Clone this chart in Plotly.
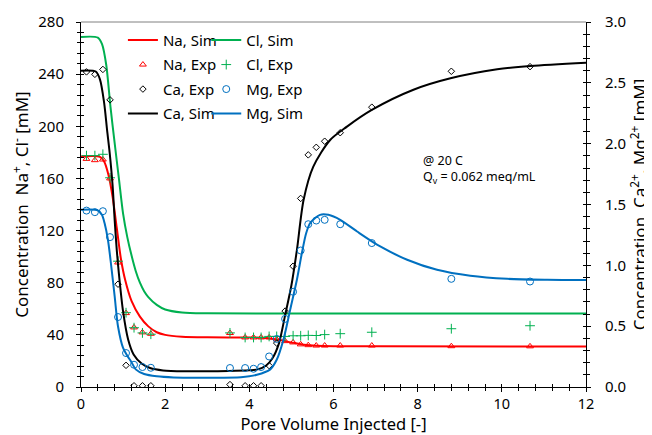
import plotly.graph_objects as go

# ---------------- data ----------------
# experimental sampling points (pore volumes)
x_exp = [0.13, 0.33, 0.52, 0.69, 0.88, 1.07, 1.26, 1.46, 1.66, 3.54, 3.90, 4.10, 4.28,
         4.47, 4.65, 4.85, 5.04, 5.22, 5.40, 5.59, 5.79, 6.16, 6.91, 8.80, 10.67]

na_exp = [175.0, 174.0, 174.5, 160.0, 95.5, 56.7, 45.7, 41.9, 40.8, 41.4, 38.0, 38.0, 38.0,
          38.0, 36.5, 35.2, 34.2, 32.7, 32.1, 31.8, 31.8, 31.8, 31.8, 31.3, 31.2]
cl_exp = [177.5, 177.5, 178.5, 160.5, 96.5, 57.0, 45.5, 41.5, 40.5, 41.5, 38.0, 38.0, 38.0,
          38.8, 38.8, 38.8, 39.3, 39.3, 39.6, 39.5, 40.2, 40.9, 42.0, 44.7, 47.0]
ca_exp = [2.59, 2.57, 2.61, 2.36, 0.845, 0.178, 0.01, 0.01, 0.01, 0.02, 0.01, 0.01, 0.01,
          0.176, 0.361, 0.624, 0.993, 1.55, 1.908, 1.97, 2.02, 2.09, 2.30, 2.595, 2.633]
mg_exp = [1.45, 1.437, 1.445, 1.232, 0.575, 0.279, 0.183, 0.164, 0.158, 0.156, 0.156, 0.150, 0.164,
          0.251, 0.395, 0.560, 0.783, 1.122, 1.338, 1.368, 1.374, 1.338, 1.183, 0.889, 0.867]

# simulated curves
na_sim_x = [0, 0.45, 0.55, 0.65, 0.75, 0.85, 0.95, 1.05, 1.2, 1.4, 1.6, 1.8, 2.0, 2.4, 3.0,
            4.0, 4.4, 4.7, 5.0, 5.3, 5.6, 6.0, 7.0, 12.0]
na_sim_y = [176.8, 176.5, 173.0, 163.0, 146.0, 122.0, 98.0, 82.0, 66.0, 54.0, 46.5, 42.0, 40.0,
            38.6, 38.1, 38.0, 37.6, 36.2, 34.2, 32.4, 31.6, 31.3, 31.2, 31.1]

cl_sim_x = [0, 0.4, 0.5, 0.6, 0.7, 0.8, 0.9, 1.0, 1.1, 1.2, 1.3, 1.4, 1.5, 1.6, 1.8, 2.0,
            2.4, 3.0, 12.0]
cl_sim_y = [268.5, 268.0, 263.0, 247.0, 215.0, 187.0, 160.0, 133.0, 115.0, 101.0, 89.0, 80.0,
            73.5, 69.0, 63.0, 59.5, 57.2, 56.5, 56.3]

ca_sim_x = [0, 0.35, 0.45, 0.55, 0.62, 0.68, 0.75, 0.8, 0.85, 0.9, 1.0, 1.12, 1.25, 1.44, 1.64,
            1.95, 2.5, 3.0, 3.5, 4.0, 4.2, 4.4, 4.55, 4.7, 4.85, 5.0, 5.13, 5.29, 5.52, 5.92,
            6.32, 6.91, 7.9, 8.78, 9.89, 10.68, 12.0]
ca_sim_y = [2.600, 2.593, 2.529, 2.336, 2.111, 1.929, 1.661, 1.371, 1.125, 0.932, 0.621, 0.391,
            0.268, 0.193, 0.156, 0.136, 0.129, 0.129, 0.131, 0.137, 0.145, 0.177, 0.236, 0.354,
            0.589, 0.836, 1.125, 1.539, 1.811, 2.030, 2.140, 2.277, 2.443, 2.537, 2.611, 2.639,
            2.666]

mg_sim_x = [0, 0.4, 0.5, 0.56, 0.64, 0.72, 0.8, 0.88, 1.0, 1.1, 1.2, 1.3, 1.5, 1.8, 2.2, 3.0,
            3.8, 4.18, 4.49, 4.65, 4.81, 4.97, 5.13, 5.25, 5.35, 5.45, 5.68, 5.88, 6.16, 6.56,
            7.11, 7.75, 8.46, 9.25, 10.13, 11.08, 12.0]
mg_sim_y = [1.456, 1.452, 1.414, 1.347, 1.210, 0.990, 0.744, 0.497, 0.321, 0.257, 0.204, 0.145,
            0.107, 0.088, 0.079, 0.077, 0.081, 0.101, 0.143, 0.224, 0.389, 0.634, 0.881, 1.104,
            1.264, 1.350, 1.415, 1.415, 1.374, 1.278, 1.155, 1.046, 0.963, 0.914, 0.889, 0.881,
            0.879]

x_ticks = [0, 2, 4, 6, 8, 10, 12]
yl_ticks = [0, 40, 80, 120, 160, 200, 240, 280]
yr_ticks = [0.0, 0.5, 1.0, 1.5, 2.0, 2.5, 3.0]

RED = "#FF0000"
GREEN = "#00B050"
BLACK = "#000000"
BLUE = "#0070C0"
FONT = "Noto Sans"
TXT = "#000000"

fig = go.Figure()

def sim(x, y, name, color, yaxis, legend):
    fig.add_trace(go.Scatter(x=x, y=y, name=name, mode="lines", yaxis=yaxis,
                             legend=legend, legendgroup=name,
                             line=dict(color=color, width=2, shape="spline", smoothing=0.8)))

def exp(x, y, name, color, symbol, size, yaxis, legend):
    fig.add_trace(go.Scatter(x=x, y=y, name=name, mode="markers", yaxis=yaxis,
                             legend=legend, legendgroup=name,
                             marker=dict(symbol=symbol, size=size, color=color,
                                         line=dict(color=color, width=1))))

# legend 1 (left column)
sim(na_sim_x, na_sim_y, "Na, Sim", RED, "y", "legend")
exp(x_exp, na_exp, "Na, Exp", RED, "triangle-up-open", 6, "y", "legend")
exp(x_exp, ca_exp, "Ca, Exp", BLACK, "diamond-open", 5, "y2", "legend")
sim(ca_sim_x, ca_sim_y, "Ca, Sim", BLACK, "y2", "legend")
# legend 2 (right column)
sim(cl_sim_x, cl_sim_y, "Cl, Sim", GREEN, "y", "legend2")
exp(x_exp, cl_exp, "Cl, Exp", GREEN, "cross-thin-open", 7, "y", "legend2")
exp(x_exp, mg_exp, "Mg, Exp", BLUE, "circle-open", 7, "y2", "legend2")
sim(mg_sim_x, mg_sim_y, "Mg, Sim", BLUE, "y2", "legend2")

# empty helper traces so the inside-tick overlay axes are drawn
fig.add_trace(go.Scatter(x=[], y=[], xaxis="x2", yaxis="y3", showlegend=False, hoverinfo="skip"))
fig.add_trace(go.Scatter(x=[], y=[], xaxis="x2", yaxis="y4", showlegend=False, hoverinfo="skip"))

tickfont = dict(family=FONT, size=15, color=TXT)
xtickfont = dict(family=FONT, size=14.5, color=TXT)
titlefont = dict(family=FONT, size=17, color=TXT)
xtitlefont = dict(family=FONT, size=16.5, color=TXT)
legfont = dict(family=FONT, size=15, color=TXT)
annfont = dict(family=FONT, size=12.5, color=TXT)

# the page body adds an 8 px offset; the figure is sized so the plot area lands at
# x 81..586, y 22..387 of the 652x435 window
fig.update_layout(
    template="plotly_white",
    width=644, height=427,
    margin=dict(l=73, r=66, t=14, b=48, autoexpand=False),
    paper_bgcolor="white", plot_bgcolor="white",
    font=dict(family=FONT, color=TXT),
    xaxis=dict(range=[0, 12], tickvals=x_ticks, ticks="outside", ticklen=4, tickwidth=1,
               tickcolor=BLACK, showline=True, linecolor=BLACK, linewidth=1, automargin=False,
               showgrid=False, zeroline=False, tickfont=xtickfont, ticklabelstandoff=0,
               minor=dict(dtick=0.4, tick0=0, ticks="outside", ticklen=3, tickcolor=BLACK,
                          showgrid=False),
               title=dict(text="Pore Volume Injected [-]", font=xtitlefont, standoff=8)),
    yaxis=dict(range=[0, 280], tickvals=yl_ticks, ticks="outside", ticklen=4, tickwidth=1,
               tickcolor=BLACK, showline=True, linecolor=BLACK, linewidth=1, automargin=False,
               showgrid=False, zeroline=False, tickfont=tickfont, ticklabelstandoff=9,
               minor=dict(dtick=8, tick0=0, ticks="outside", ticklen=3, tickcolor=BLACK,
                          showgrid=False),
               title=dict(text="Concentration \u00a0Na<sup>+</sup>, Cl<sup>-</sup> [mM]",
                          font=titlefont, standoff=8)),
    yaxis2=dict(range=[0, 3], tickvals=yr_ticks, tickformat=".1f", overlaying="y", side="right",
                anchor="x", ticks="outside", ticklen=4, tickwidth=1, tickcolor=BLACK,
                showline=True, linecolor=BLACK, linewidth=1, showgrid=False, zeroline=False,
                tickfont=tickfont, ticklabelstandoff=11, automargin=False,
                minor=dict(dtick=0.1, tick0=0, ticks="outside", ticklen=3, tickcolor=BLACK,
                           showgrid=False),
                title=dict(text="Concentration \u00a0Ca<sup>2+</sup>, Mg<sup>2+</sup> [mM]",
                           font=titlefont, standoff=3)),
    xaxis2=dict(range=[0, 12], overlaying="x", anchor="y", tickvals=x_ticks, ticks="inside",
                ticklen=3, tickcolor=BLACK, showticklabels=False, showline=False,
                showgrid=False, zeroline=False, automargin=False,
                minor=dict(dtick=0.4, tick0=0, ticks="inside", ticklen=3, tickcolor=BLACK,
                           showgrid=False)),
    yaxis3=dict(range=[0, 280], overlaying="y", side="left", anchor="x", tickvals=yl_ticks,
                ticks="inside", ticklen=3, tickcolor=BLACK, showticklabels=False,
                showline=False, showgrid=False, zeroline=False, automargin=False,
                minor=dict(dtick=8, tick0=0, ticks="inside", ticklen=3, tickcolor=BLACK,
                           showgrid=False)),
    yaxis4=dict(range=[0, 3], overlaying="y", side="right", anchor="x", tickvals=yr_ticks,
                ticks="inside", ticklen=3, tickcolor=BLACK, showticklabels=False,
                showline=False, showgrid=False, zeroline=False, automargin=False,
                minor=dict(dtick=0.1, tick0=0, ticks="inside", ticklen=3, tickcolor=BLACK,
                           showgrid=False)),
    legend=dict(x=0.083, y=0.995, xanchor="left", yanchor="top", bgcolor="rgba(0,0,0,0)",
                font=legfont, traceorder="grouped", itemwidth=30, tracegroupgap=2),
    legend2=dict(x=0.248, y=0.995, xanchor="left", yanchor="top", bgcolor="rgba(0,0,0,0)",
                 font=legfont, traceorder="grouped", itemwidth=30, tracegroupgap=2),
    shapes=[dict(type="line", xref="paper", yref="paper", x0=0, x1=1, y0=1, y1=1,
                 line=dict(color="#808080", width=1))],
    annotations=[
        dict(x=8.08, y=173.4, xref="x", yref="y", xanchor="left", yanchor="middle",
             align="left", showarrow=False, text="@ 20 C", font=annfont),
        dict(x=8.08, y=160.5, xref="x", yref="y", xanchor="left", yanchor="middle",
             align="left", showarrow=False, text="Q<sub>v</sub> = 0.062 meq/mL", font=annfont),
    ],
)

fig.write_html("out.html")
